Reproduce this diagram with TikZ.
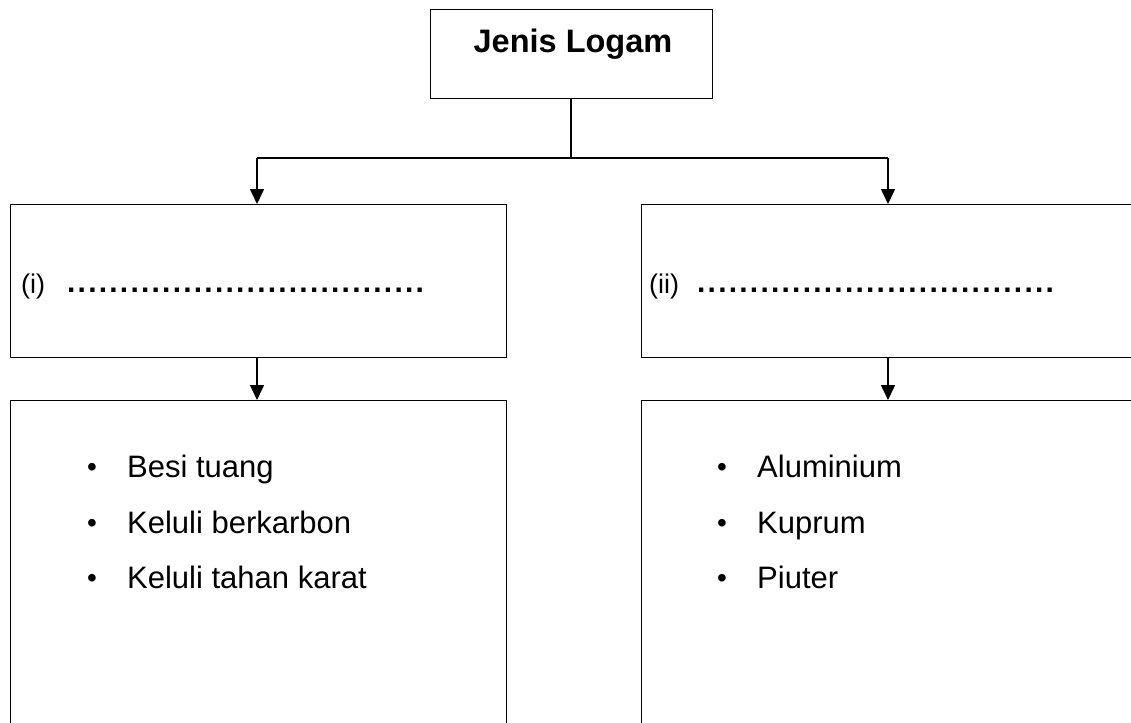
\documentclass[tikz,border=0pt]{standalone}
\usepackage{fontspec}
\setmainfont{Liberation Sans}
\usetikzlibrary{arrows.meta}
\newfontfamily\dotsfont[LetterSpace=7.4]{Liberation Sans Bold}
\tikzset{
  box/.style={draw, line width=1.3pt, rectangle, anchor=north west, inner sep=0pt},
  conn/.style={line width=1.6pt},
  arr/.style={conn, -{Triangle[width=14pt,length=15pt]}},
  item/.style={anchor=base west, inner sep=0pt, font=\fontsize{31}{37}\selectfont},
  bul/.style={anchor=base, inner sep=0pt, font=\fontsize{28}{37}\selectfont},
  lab/.style={anchor=base west, inner sep=0pt, font=\fontsize{27}{30}\selectfont},
  dotlab/.style={anchor=base west, inner sep=0pt, font=\dotsfont\fontsize{30}{30}\selectfont},
}
\begin{document}
\begin{tikzpicture}[x=1pt,y=-1pt]
\useasboundingbox (0,0) rectangle (1131,722);
% boxes
\node[box, minimum width=282pt, minimum height=89pt] (top) at (430,9) {};
\node[anchor=base, inner sep=0pt, font=\fontsize{32.5}{38}\selectfont\bfseries] (title) at (573,53) {Jenis Logam};
\node[box, minimum width=496pt, minimum height=153pt] (b1) at (10,204) {};
\node[box, minimum width=520pt, minimum height=153pt] (b2) at (641,204) {};
\node[box, minimum width=496pt, minimum height=360pt] (c1) at (10,400) {};
\node[box, minimum width=520pt, minimum height=360pt] (c2) at (641,400) {};
% connectors
\coordinate (jl) at (257,158);
\coordinate (jr) at (888,158);
\coordinate (jm) at (571,158);
\draw[conn] (top.south -| jm) -- (jm);
\draw[conn] (jl) -- (jr);
\draw[arr] (jl) -- (jl |- b1.north);
\draw[arr] (jr) -- (jr |- b2.north);
\draw[arr] (jl |- b1.south) -- (jl |- c1.north);
\draw[arr] (jr |- b2.south) -- (jr |- c2.north);
% labels
\node[lab] (i) at (21,293) {(i)};
\node[dotlab] (idots) at (67,292) {..................................};
\node[lab] (ii) at (649,293) {(ii)};
\node[dotlab] (iidots) at (697,292) {..................................};
% items left
\node[bul] (lb1) at (92,476) {•};
\node[item] (l1) at (127,477) {Besi tuang};
\node[bul] (lb2) at (92,532) {•};
\node[item] (l2) at (127,533) {Keluli berkarbon};
\node[bul] (lb3) at (92,587) {•};
\node[item] (l3) at (127,588) {Keluli tahan karat};
% items right
\node[bul] (rb1) at (722,476) {•};
\node[item] (r1) at (757,477) {Aluminium};
\node[bul] (rb2) at (722,532) {•};
\node[item] (r2) at (757,533) {Kuprum};
\node[bul] (rb3) at (722,587) {•};
\node[item] (r3) at (757,588) {Piuter};
\end{tikzpicture}
\end{document}
